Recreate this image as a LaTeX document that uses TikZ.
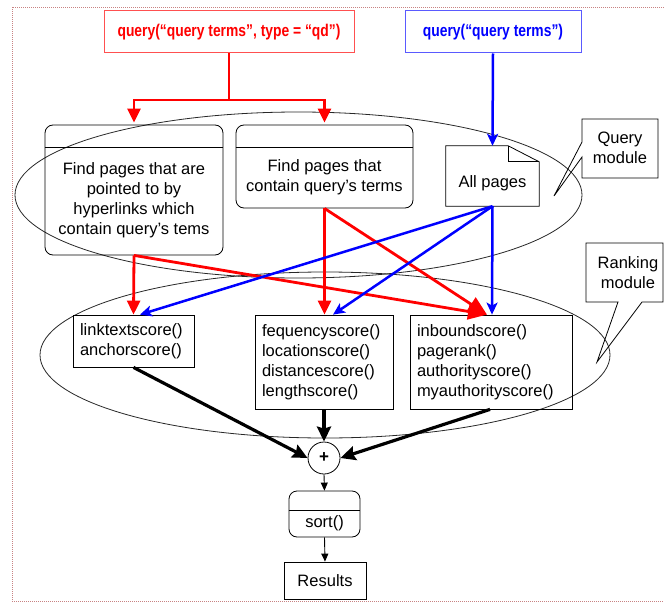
\documentclass[tikz,border=0pt]{standalone}
\usepackage{fontspec}
\setmainfont{Liberation Sans}
\usepackage{graphicx}
\usetikzlibrary{arrows.meta,shapes.geometric}
\definecolor{qred}{RGB}{255,0,0}
\definecolor{qblue}{RGB}{0,0,255}
\definecolor{framec}{RGB}{200,130,130}
\definecolor{redborder}{RGB}{255,80,80}
\definecolor{blueborder}{RGB}{90,90,255}
\definecolor{ellc}{RGB}{40,40,40}
\begin{document}
\begin{tikzpicture}[x=1pt,y=-1pt,
  every node/.style={font=\fontsize{16.5}{20}\selectfont, inner sep=0pt},
  frm/.style={draw=framec, line width=0.9pt, dash pattern=on 1pt off 1pt},
  qbox/.style={draw, line width=1pt, minimum width=#1, minimum height=42,
     font=\fontsize{17}{20}\selectfont\bfseries},
  rbox/.style={draw, line width=0.8pt, rounded corners=8pt},
  plainbox/.style={draw, line width=0.8pt},
  scorebox/.style={draw, line width=0.8pt, align=left, inner xsep=7pt, inner ysep=0pt},
  modell/.style={ellipse, draw=ellc, line width=0.8pt},
  callout/.style={draw, line width=0.8pt},
  redline/.style={draw=qred, line width=2.8pt},
  blueline/.style={draw=qblue, line width=2.5pt},
  blackline/.style={draw=black, line width=3.2pt},
  thinline/.style={draw=black, line width=0.9pt},
  rtip/.style={-{Triangle[length=14pt,width=13pt]}},
  bigrtip/.style={-{Triangle[length=19pt,width=16pt]}},
  btip/.style={-{Stealth[length=12pt,width=11pt,inset=3pt]}},
  ktip/.style={-{Stealth[length=15pt,width=14pt,inset=2pt]}},
  ttip/.style={-{Triangle[length=8pt,width=7pt]}}
]
\useasboundingbox (0,0) rectangle (664,602);
\fill[white] (0,0) rectangle (664,602);
% frame
\draw[frm] (664,7) -- (12,7) -- (12,601) -- (664,601);

% module ellipses
\node[modell, minimum width=567, minimum height=166] (qmod) at (298.5,195) {};
\node[modell, minimum width=570, minimum height=166] (rmod) at (325,355) {};

% query boxes
\node[qbox=250, draw=redborder, text=qred] (qr) at (229,32)
  {\scalebox{0.815}[1]{query(“query terms”, type = “qd”)}};
\node[qbox=176, draw=blueborder, text=qblue] (qb) at (493,32)
  {\scalebox{0.815}[1]{query(“query terms”)}};

% query module boxes
\node[rbox, minimum width=178, minimum height=130] (b1) at (134,190) {};
\draw[line width=0.8pt] ([yshift=-23pt]b1.north west) -- ([yshift=-23pt]b1.north east);
\node[align=center] (b1t) at (134,200) {Find pages that are\\pointed to by\\hyperlinks which\\contain query's tems};

\node[rbox, minimum width=177, minimum height=83] (b2) at (324.5,166.5) {};
\draw[line width=0.8pt] ([yshift=-23pt]b2.north west) -- ([yshift=-23pt]b2.north east);
\node[align=center] (b2t) at (324.5,177) {Find pages that\\contain query's terms};

% all pages document
\node[minimum width=93, minimum height=60] (ap) at (492.5,176) {};
\draw[line width=0.8pt] (ap.south west) -- (ap.north west) -- ([xshift=-31pt]ap.north east)
  -- ([yshift=-16pt]ap.north east) -- (ap.south east) -- cycle;
\draw[line width=0.8pt] ([xshift=-31pt]ap.north east) -- ([xshift=-31pt,yshift=-16pt]ap.north east)
  -- ([yshift=-16pt]ap.north east);
\node (apt) at (492.5,183) {All pages};

% callouts
\draw[callout] (582,119) -- (658,119) -- (658,178) -- (582,178) -- (582,157) -- (554,196) -- (582,142) -- cycle;
\node[align=center] (qmodt) at (620,148) {Query\\module};
\draw[callout] (586,243) -- (663,243) -- (663,302) -- (642,302) -- (597,362) -- (618,302) -- (586,302) -- cycle;
\node[align=center] (rmodt) at (628,272.5) {Ranking\\module};

% score boxes
\node[scorebox, text width=107pt, minimum height=52] (sa) at (133.5,341) {linktextscore()\\anchorscore()};
\node[scorebox, text width=124pt, minimum height=94] (sb) at (324,362) {fequencyscore()\\locationscore()\\distancescore()\\lengthscore()};
\node[scorebox, text width=148pt, minimum height=94] (sc) at (491,362) {inboundscore()\\pagerank()\\authorityscore()\\myauthorityscore()};

% combine, sort, results
\node[circle, draw, line width=0.8pt, minimum size=32] (plus) at (324,458) {\fontsize{17}{20}\selectfont\bfseries +};
\node[rbox, minimum width=71, minimum height=46] (srt) at (324.5,514) {};
\draw[line width=0.8pt] ([yshift=-20pt]srt.north west) -- ([yshift=-20pt]srt.north east);
\node (srtt) at (324.5,523) {sort()};
\node[plainbox, minimum width=82, minimum height=37] (res) at (325,580.5) {Results};

% query connectors
\coordinate (rsplit) at (229,100);
\draw[redline] (qr.south) -- (rsplit);
\draw[redline, rtip] (rsplit) -| ([yshift=2pt]b1.north);
\draw[redline, rtip] (rsplit) -| ([yshift=2pt]b2.north);
\draw[blueline, btip] (qb.south) -- (ap.north);

% to ranking
\draw[redline, rtip] (b1.south) -- (sa.north);
\draw[redline, rtip] (b2.south) -- ([xshift=0.5pt]sb.north);
\draw[redline, bigrtip] (b1.south) -- ([xshift=-4pt]sc.north);
\draw[redline, bigrtip] (b2.south) -- ([xshift=-4pt]sc.north);
\draw[blueline, btip] (ap.south) -- ([xshift=6.5pt]sa.north);
\draw[blueline, btip] (ap.south) -- ([xshift=9pt]sb.north);
\draw[blueline, btip] (ap.south) -- ([xshift=1pt]sc.north);

% to combine
\draw[blackline, ktip] (sa.south) -- (plus.west);
\draw[blackline, ktip] (sb.south) -- (plus.north);
\draw[blackline, ktip] ([xshift=-1pt]sc.south) -- (plus.east);
\draw[thinline, ttip] (plus.south) -- (srt.north);
\draw[thinline, ttip] (srt.south) -- (res.north);
\end{tikzpicture}
\end{document}
